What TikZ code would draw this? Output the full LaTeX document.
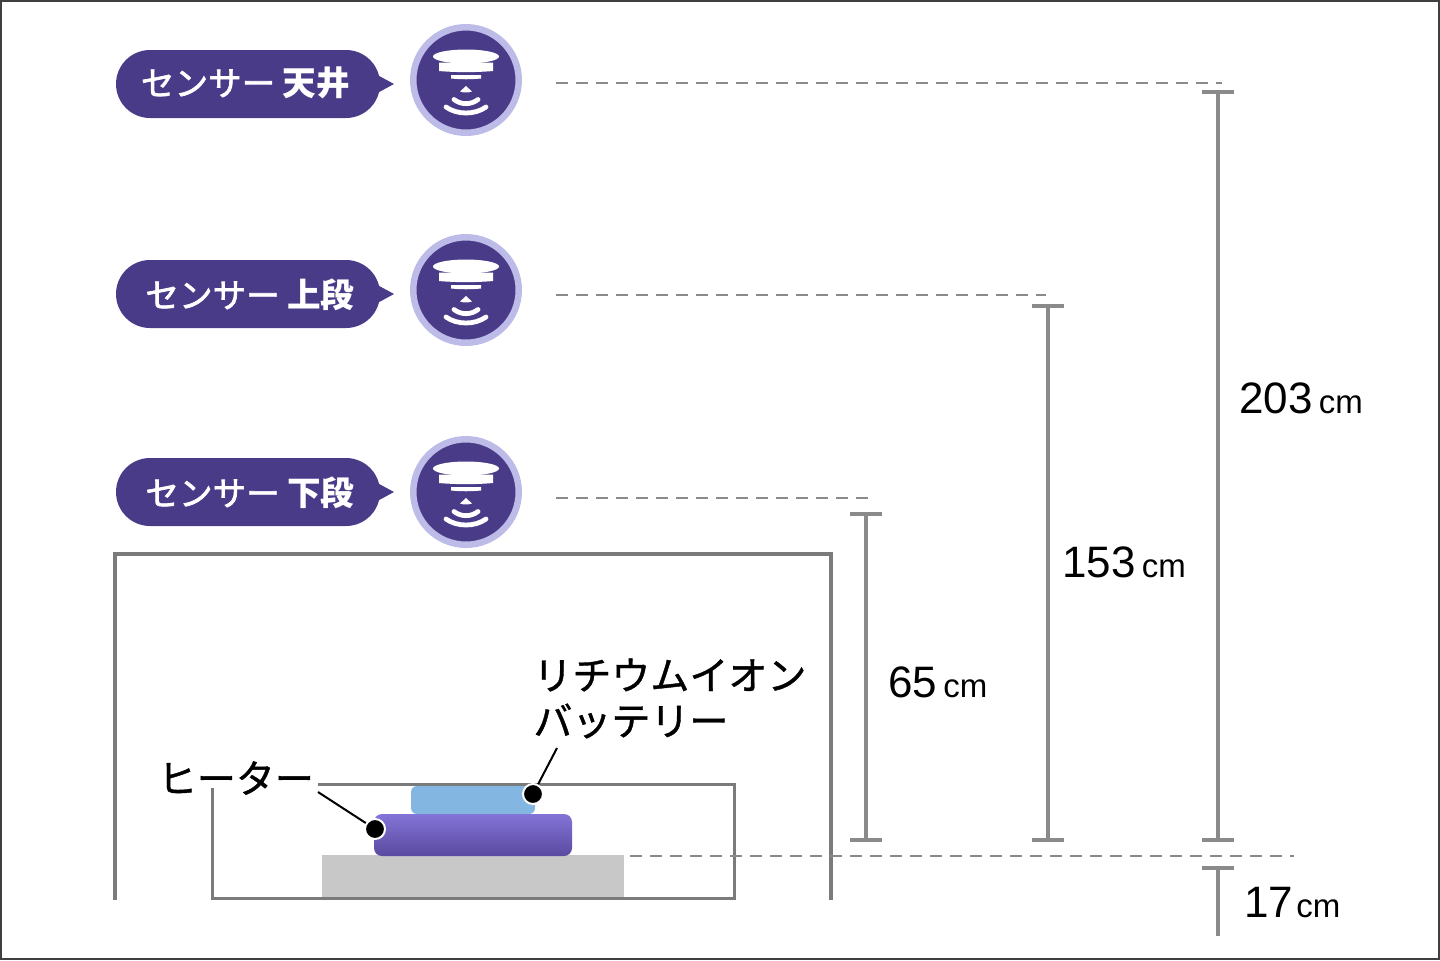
\documentclass[tikz,border=0pt]{standalone}
\usepackage{fontspec}
\setmainfont{Liberation Sans}
\newfontfamily\jpfont[FakeBold=1]{Noto Sans CJK JP}
\newfontfamily\jppill[FakeBold=2]{Noto Sans CJK JP}
\newfontfamily\jpheavy{Noto Sans CJK JP}
\definecolor{sensorbody}{HTML}{4A3B89}
\definecolor{sensorring}{HTML}{BDBBE8}
\definecolor{dimgray}{HTML}{8A8A8A}
\definecolor{wallgray}{HTML}{7B7B7B}
\definecolor{padgray}{HTML}{C8C8C8}
\definecolor{batteryblue}{HTML}{84B6E2}
\definecolor{heatertop}{HTML}{8474D8}
\definecolor{heaterbottom}{HTML}{5A4A9F}
\begin{document}
\begin{tikzpicture}[x=0.5pt,y=-0.5pt,
		pill/.style={fill=sensorbody, rounded corners=17pt, minimum width=132pt, minimum height=34pt, inner sep=0pt},
		pilltext/.style={text=white, inner sep=0pt, font=\jppill\fontsize{16.8}{20}\selectfont},
		ring/.style={circle, fill=sensorbody, draw=sensorring, line width=3.25pt, minimum size=52.75pt, inner sep=0pt},
		wave/.style={draw=white, line width=2.4pt, line cap=round},
		guide/.style={draw=dimgray, line width=1pt, dash pattern=on 6pt off 4pt},
		dim/.style={draw=dimgray, line width=2pt},
		wall/.style={draw=wallgray, line width=2pt},
		dot/.style={circle, fill=black, draw=white, line width=1pt, minimum size=10pt, inner sep=0pt},
		leader/.style={draw=black, line width=1pt},
		part/.style={font=\jpfont\fontsize{19.5}{23}\selectfont, inner sep=0pt},
		height/.style={font=\fontsize{22}{26}\selectfont, inner sep=0pt, anchor=base west},
	]
	\useasboundingbox (0,0) rectangle (1440,960);
	\draw[draw=black!75, line width=1pt] (1,1) rectangle (1439,959);

	% sensors
	\foreach \n/\py/\cy/\tx/\ty/\lab in {top/84/80/245.5/83/天井, mid/294/290/250/295/上段, low/492/492/250/493/下段} {
		\fill[sensorbody] (370,\py-13) -- (394,\py) -- (370,\py+13) -- cycle;
		\node[pill] (pill\n) at (248,\py) {};
		\node[pilltext] (text\n) at (\tx,\ty) {センサー {\jpheavy\bfseries\lab}};
		\node[ring] (ring\n) at (466,\cy) {};
		\begin{scope}[shift={(466,\cy)}]
			\fill[white] (0,-23.5) ellipse[x radius=33, y radius=7];
			\fill[white] (-27,-17.5) -- (27,-17.5) -- (27,-9) .. controls (10,-7.5) and (-10,-7.5) .. (-27,-9) -- cycle;
			\fill[white] (-15,-5) -- (15,-5) -- (15,-1.5) .. controls (5,-0.5) and (-5,-0.5) .. (-15,-1.5) -- cycle;
			\fill[white] (0,6) -- (6,11.5) .. controls (2,12.8) and (-2,12.8) .. (-6,11.5) -- cycle;
			\draw[wave] (-12,19.5) .. controls (-5,25) and (5,25) .. (12,19.5);
			\draw[wave] (-20,27) .. controls (-9,35) and (9,35) .. (20,27);
		\end{scope}
	}

	% cabinet
	\draw[wall] (115,900) -- (115,554) -- (831,554) -- (831,900);
	\draw[wall, line width=1.5pt] (318,784) -- (734,784) -- (734,898) -- (212,898) -- (212,788);
	\fill[padgray] (322,855) rectangle (624,897);
	\fill[batteryblue, rounded corners=3pt] (411,786) rectangle (535,814);
	\shade[top color=heatertop, bottom color=heaterbottom, rounded corners=4pt] (374,814) rectangle (572,856);

	% parts
	\node[part, anchor=west] (heaterlabel) at (157.5,778) {ヒーター};
	\node[part, anchor=west] (batterylabel1) at (533,675) {リチウムイオン};
	\node[part, anchor=west] (batterylabel2) at (533,721) {バッテリー};
	\node[dot] (heaterdot) at (375,829) {};
	\node[dot] (batterydot) at (533,794) {};
	\coordinate (heaterend) at (318,792);
	\coordinate (batteryend) at (557,748);
	\draw[leader] (heaterend) -- (heaterdot);
	\draw[leader] (batteryend) -- (batterydot);

	% guides
	\coordinate (topa) at (556,83);
	\coordinate (topb) at (1222,83);
	\coordinate (mida) at (556,295);
	\coordinate (midb) at (1046,295);
	\coordinate (lowa) at (556,498);
	\coordinate (lowb) at (870,498);
	\coordinate (floora) at (630,856);
	\coordinate (floorb) at (1294,856);
	\draw[guide] (topa) -- (topb);
	\draw[guide] (mida) -- (midb);
	\draw[guide] (lowa) -- (lowb);
	\draw[guide] (floora) -- (floorb);

	% heights
	\foreach \hx/\hy in {1218/92, 1048/306, 866/514} {
		\draw[dim] (\hx,\hy) -- (\hx,840);
		\draw[dim] (\hx-16,\hy) -- (\hx+16,\hy);
		\draw[dim] (\hx-16,840) -- (\hx+16,840);
	}
	\draw[dim] (1218,868) -- (1218,936);
	\draw[dim] (1202,868) -- (1234,868);

	\node[height] (h203) at (1239,413) {203\kern3pt{\fontsize{16.5}{20}\selectfont cm}};
	\node[height] (h153) at (1062,577) {153\kern3pt{\fontsize{16.5}{20}\selectfont cm}};
	\node[height] (h65) at (888,697) {65\kern3pt{\fontsize{16.5}{20}\selectfont cm}};
	\node[height] (h17) at (1244,917) {17\kern1.5pt{\fontsize{16.5}{20}\selectfont cm}};
\end{tikzpicture}
\end{document}
